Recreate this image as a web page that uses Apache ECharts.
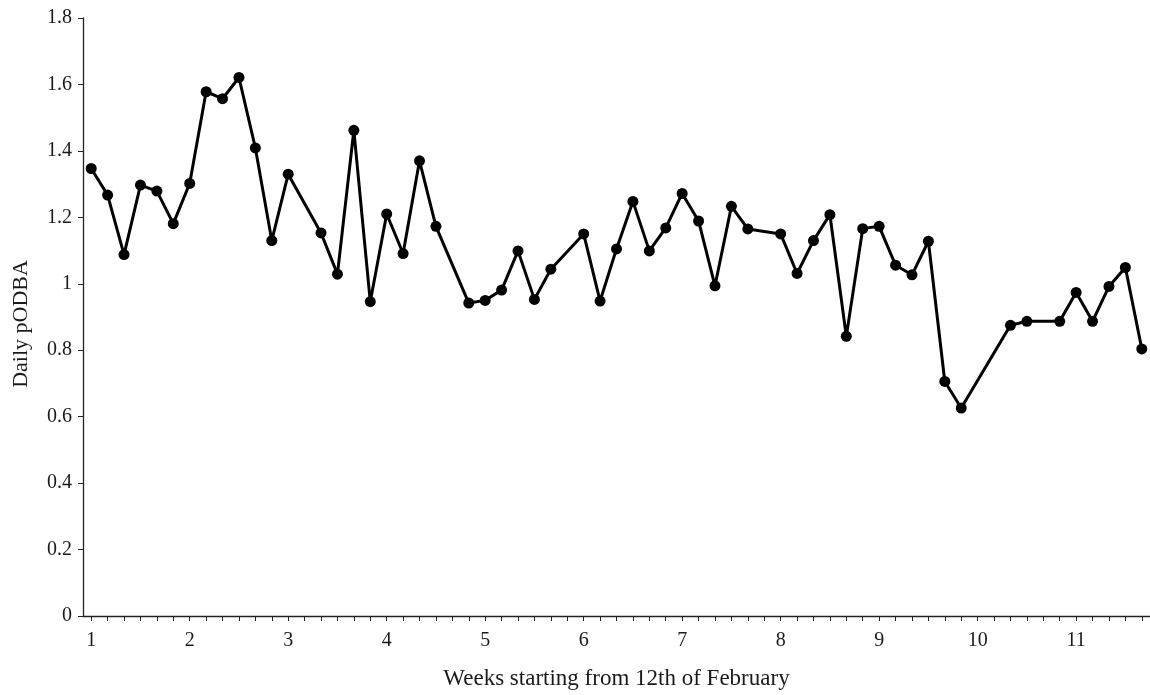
<!DOCTYPE html>
<html>
<head>
<meta charset="utf-8">
<script src="https://cdn.jsdelivr.net/npm/echarts@6/dist/echarts.min.js"></script>
<style>html,body{margin:0;padding:0;background:#fff;overflow:hidden;}#c{width:1150px;height:695px;}</style>
</head>
<body>
<div id="c"></div>
<script>
// Day slots: 6 per week, starting at week 1
var slotsPerWeek = 6;
var weekStart = 1;
var slotCount = 65;
// Daily pODBA values (null = no data for that slot)
var podba = [
  1.347, 1.267, 1.088, 1.297, 1.279, 1.181,
  1.302, 1.578, 1.557, 1.621, 1.409, 1.130,
  1.330, null, 1.153, 1.029, 1.462, 0.946,
  1.210, 1.091, 1.370, 1.173, null, 0.942,
  0.950, 0.981, 1.099, 0.953, 1.044, null,
  1.150, 0.948, 1.105, 1.248, 1.099, 1.168,
  1.272, 1.189, 0.994, 1.233, 1.165, null,
  1.150, 1.031, 1.130, 1.208, 0.842, 1.166,
  1.173, 1.056, 1.027, 1.128, 0.706, 0.626,
  null, null, 0.875, 0.887, null, 0.887,
  0.974, 0.887, 0.992, 1.049, 0.804
];
var yTicks = { min: 0, max: 1.8, step: 0.2 };
var xTitle = 'Weeks starting from 12th of February';
var yTitle = 'Daily pODBA';

var categories = [];
for (var i = 0; i < slotCount; i++) categories.push(i);

var font = 'Liberation Serif';
var chart = echarts.init(document.getElementById('c'));
chart.setOption({
  animation: false,
  backgroundColor: '#ffffff',
  grid: { left: 83, top: 18, width: 1069, height: 604, containLabel: false },
  xAxis: {
    type: 'category',
    data: categories,
    boundaryGap: true,
    name: xTitle,
    nameLocation: 'middle',
    nameGap: 51,
    nameTextStyle: { fontFamily: font, fontSize: 23, color: '#1a1a1a' },
    axisLine: { lineStyle: { color: '#222', width: 1.3 } },
    axisTick: { show: true, alignWithLabel: true, interval: 0, length: 5, lineStyle: { color: '#222' } },
    axisLabel: {
      interval: slotsPerWeek - 1,
      margin: 15,
      fontFamily: font, fontSize: 20, color: '#1a1a1a',
      formatter: function (v, idx) { return String(weekStart + idx / slotsPerWeek); }
    },
    splitLine: { show: false }
  },
  yAxis: {
    type: 'value',
    min: yTicks.min, max: yTicks.max, interval: yTicks.step,
    name: yTitle,
    nameLocation: 'middle',
    nameGap: 51,
    nameTextStyle: { fontFamily: font, fontSize: 22, color: '#1a1a1a', padding: [0, 14, 0, 0] },
    axisLine: { show: true, lineStyle: { color: '#222', width: 1.3 } },
    axisTick: { show: true, length: 5, lineStyle: { color: '#222' } },
    axisLabel: {
      margin: 11, fontFamily: font, fontSize: 20, color: '#1a1a1a',
      formatter: function (v) { return String(Math.round(v * 10) / 10); }
    },
    splitLine: { show: false }
  },
  series: [{
    type: 'line',
    data: podba,
    connectNulls: true,
    showAllSymbol: true,
    symbol: 'circle',
    symbolSize: 11,
    itemStyle: { color: '#000' },
    lineStyle: { color: '#000', width: 3 }
  }]
});
</script>
</body>
</html>
